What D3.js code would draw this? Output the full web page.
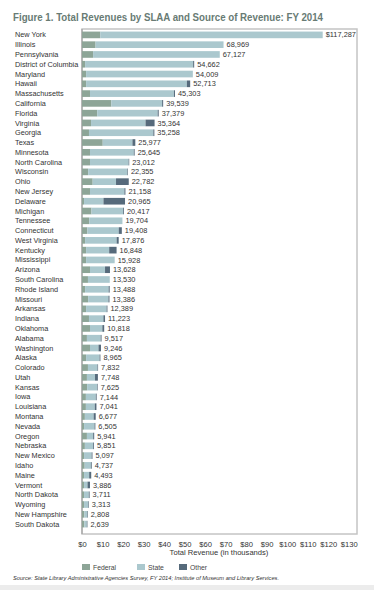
<!DOCTYPE html>
<html><head><meta charset="utf-8">
<script src="https://cdn.jsdelivr.net/npm/d3@7"></script>
<style>
body{margin:0;background:#fff;}
svg{display:block;font-family:"Liberation Sans",Arial,sans-serif;}
</style></head>
<body><svg id="c" width="374" height="590"></svg>
<script>
const states = ["New York","Illinois","Pennsylvania","District of Columbia","Maryland","Hawaii","Massachusetts","California","Florida","Virginia","Georgia","Texas","Minnesota","North Carolina","Wisconsin","Ohio","New Jersey","Delaware","Michigan","Tennessee","Connecticut","West Virginia","Kentucky","Mississippi","Arizona","South Carolina","Rhode Island","Missouri","Arkansas","Indiana","Oklahoma","Alabama","Washington","Alaska","Colorado","Utah","Kansas","Iowa","Louisiana","Montana","Nevada","Oregon","Nebraska","New Mexico","Idaho","Maine","Vermont","North Dakota","Wyoming","New Hampshire","South Dakota"];
// values in thousands of dollars
const federal = [8900,6600,5400,1500,2000,2000,3900,14300,7400,4400,3400,10100,3900,3900,3000,5200,3900,1000,4600,3500,2600,1500,2000,2000,3900,2900,1500,3000,2000,3400,3900,2400,3900,2000,2900,2400,2500,1900,1900,1400,1000,2400,1400,1000,1300,1000,1000,1000,1000,1100,1100];
const stateFunds = [108387,62369,61727,52662,52009,49113,40903,24739,29479,26564,31358,14477,21345,18812,19055,11382,16758,9465,15417,16204,15308,15376,11248,13928,7328,10630,11488,9886,9989,7023,6018,6717,4146,6565,4632,3948,4825,4844,4341,4277,5105,3041,4051,3697,3037,2493,1686,2311,2013,1408,1239];
const other = [0,0,0,500,0,1600,500,500,500,4400,500,1400,400,300,300,6200,500,10500,400,0,1500,1000,3600,0,2400,0,500,500,400,800,900,400,1200,400,300,1400,300,400,800,1000,400,500,400,400,400,1000,1200,400,300,300,300];
const totals = [117287,68969,67127,54662,54009,52713,45303,39539,37379,35364,35258,25977,25645,23012,22355,22782,21158,20965,20417,19704,19408,17876,16848,15928,13628,13530,13488,13386,12389,11223,10818,9517,9246,8965,7832,7748,7625,7144,7041,6677,6505,5941,5851,5097,4737,4493,3886,3711,3313,2808,2639];
const xTicks = [0,10000,20000,30000,40000,50000,60000,70000,80000,90000,100000,110000,120000,130000];
const seriesNames = ["Federal","State","Other"];
const colors = {Federal:"#8da597", State:"#abc8ce", Other:"#566a7b"};

const svg = d3.select("#c");
const L = 82, R = 357, T = 29, B = 534;

const x = d3.scaleLinear().domain([0,134000]).range([L,R]);
const y = d3.scaleBand().domain(states).range([30,529]).paddingInner(0.32).paddingOuter(0.16);

// bottom grey band
svg.append("rect").attr("x",0).attr("y",585).attr("width",374).attr("height",5).attr("fill","#ececec");

// title
svg.append("text").attr("x",13).attr("y",21).attr("font-size",11).attr("font-weight","bold")
  .attr("fill","#687b74").attr("textLength",310).attr("lengthAdjust","spacingAndGlyphs")
  .text("Figure 1. Total Revenues by SLAA and Source of Revenue: FY 2014");

// frame
svg.append("rect").attr("x",L).attr("y",T).attr("width",R-L).attr("height",B-T)
  .attr("fill","none").attr("stroke","#c4c4c4").attr("stroke-width",1.5);
svg.append("line").attr("x1",L).attr("x2",L).attr("y1",T).attr("y2",B).attr("stroke","#9a9a9a").attr("stroke-width",1);

const rows = states.map((s,i)=>({name:s, Federal:federal[i], State:stateFunds[i], Other:other[i], total:totals[i]}));
const stack = d3.stack().keys(seriesNames)(rows);

svg.append("g").selectAll("g").data(stack).join("g").attr("fill",d=>colors[d.key])
  .selectAll("rect").data(d=>d).join("rect")
  .attr("x",d=>x(d[0])).attr("width",d=>Math.max(0,x(d[1])-x(d[0])))
  .attr("y",d=>y(d.data.name)).attr("height",y.bandwidth());

// state labels
svg.append("g").selectAll("text").data(rows).join("text")
  .attr("x",15).attr("y",d=>y(d.name)+y.bandwidth()/2).attr("dy","0.35em")
  .attr("font-size",7.3).attr("fill","#333").text(d=>d.name);

// value labels
const fmt = d3.format(",");
svg.append("g").selectAll("text").data(rows).join("text")
  .attr("x",d=>x(d.Federal+d.State+d.Other)+3).attr("y",d=>y(d.name)+y.bandwidth()/2).attr("dy","0.35em")
  .attr("font-size",7.4).attr("fill","#333").text((d,i)=>(i===0?"$":"")+fmt(d.total));

// x axis
const ax = svg.append("g").attr("transform",`translate(0,${B})`)
  .call(d3.axisBottom(x).tickValues(xTicks).tickSize(0).tickPadding(8).tickFormat(d=>"$"+(d/1000)));
ax.select(".domain").remove();
ax.selectAll("text").attr("font-size",7.6).attr("fill","#333").attr("font-family","Liberation Sans, Arial, sans-serif");

svg.append("text").attr("x",219).attr("y",555).attr("text-anchor","middle").attr("font-size",7.6).attr("fill","#333")
  .text("Total Revenue (in thousands)");

// legend
const lx = [82,137,179];
const lg = svg.append("g").selectAll("g").data(seriesNames).join("g")
  .attr("transform",(d,i)=>`translate(${lx[i]},564)`);
lg.append("rect").attr("width",8).attr("height",6).attr("fill",d=>colors[d]);
lg.append("text").attr("x",11).attr("y",5.5).attr("font-size",6.8).attr("fill","#444").text(d=>d);

// source
svg.append("text").attr("x",13).attr("y",580).attr("font-size",6).attr("font-style","italic").attr("fill","#333")
  .attr("textLength",266).attr("lengthAdjust","spacingAndGlyphs")
  .text("Source: State Library Administrative Agencies Survey, FY 2014; Institute of Museum and Library Services.");
</script></body></html>
